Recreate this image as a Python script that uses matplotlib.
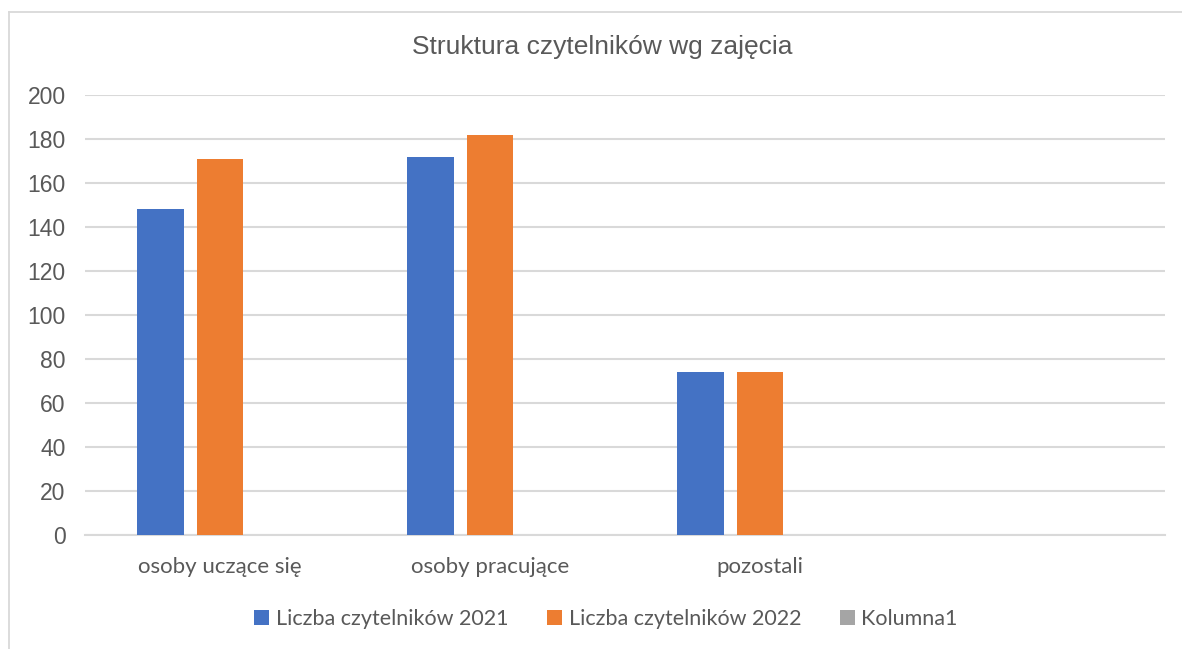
import numpy as np
import matplotlib.pyplot as plt
from matplotlib.lines import Line2D

# data
categories = ['osoby uczące się', 'osoby pracujące', 'pozostali', '']
readers_2021 = [148, 172, 74, np.nan]
readers_2022 = [171, 182, 74, np.nan]
kolumna1 = [np.nan, np.nan, np.nan, np.nan]
series_names = ['Liczba czytelników 2021', 'Liczba czytelników 2022', 'Kolumna1']
yticks = [0, 20, 40, 60, 80, 100, 120, 140, 160, 180, 200]

colors = ['#4472c4', '#ed7d31', '#a5a5a5']
text_col = '#595959'
grid_col = '#d9d9d9'

fig = plt.figure(figsize=(11.82, 6.49), dpi=100)
ax = fig.add_axes([85 / 1182, 1 - 535 / 649, 1080 / 1182, 440 / 649])

# chart border (only left and top edges are inside the picture)
bx, by = 8.5 / 1182, 1 - 11.5 / 649
fig.add_artist(Line2D([bx, bx], [0, by], transform=fig.transFigure, color=grid_col, linewidth=1.3))
fig.add_artist(Line2D([bx, 1], [by, by], transform=fig.transFigure, color=grid_col, linewidth=1.3))

x = np.arange(len(categories))
offset = 0.222
width = 0.174
for i, vals in enumerate([readers_2021, readers_2022, kolumna1]):
    ax.bar(x + (i - 1) * offset, vals, width, color=colors[i], label=series_names[i],
           linewidth=0, zorder=3)

ax.set_xlim(-0.5, len(categories) - 0.5)
ax.set_ylim(0, 200)
ax.set_yticks(yticks)
ax.set_xticks(x)
ax.set_xticklabels(categories, fontfamily='Lato', fontsize=16, color=text_col)
ax.tick_params(axis='y', length=0, pad=14, labelsize=16.5, labelcolor=text_col)
ax.tick_params(axis='x', length=0, pad=16)
for lbl in ax.get_yticklabels():
    lbl.set_fontfamily('Liberation Sans')

ax.grid(axis='y', color=grid_col, linewidth=1.5, zorder=0)
for s in ['top', 'right', 'left']:
    ax.spines[s].set_visible(False)
ax.spines['bottom'].set_color(grid_col)
ax.spines['bottom'].set_linewidth(1.5)

fig.text(602 / 1182, 1 - 47 / 649, 'Struktura czytelników wg zajęcia', ha='center', va='center',
         fontsize=19, color=text_col, fontfamily='Liberation Sans')

fig.legend(loc='center', bbox_to_anchor=(606 / 1182, 1 - 619 / 649), ncol=3, frameon=False,
           prop={'family': 'Lato', 'size': 15.5}, labelcolor=text_col,
           handlelength=0.7, handleheight=0.7, handletextpad=0.3, columnspacing=1.8)

fig.savefig('out.png', dpi=100, facecolor='white')
